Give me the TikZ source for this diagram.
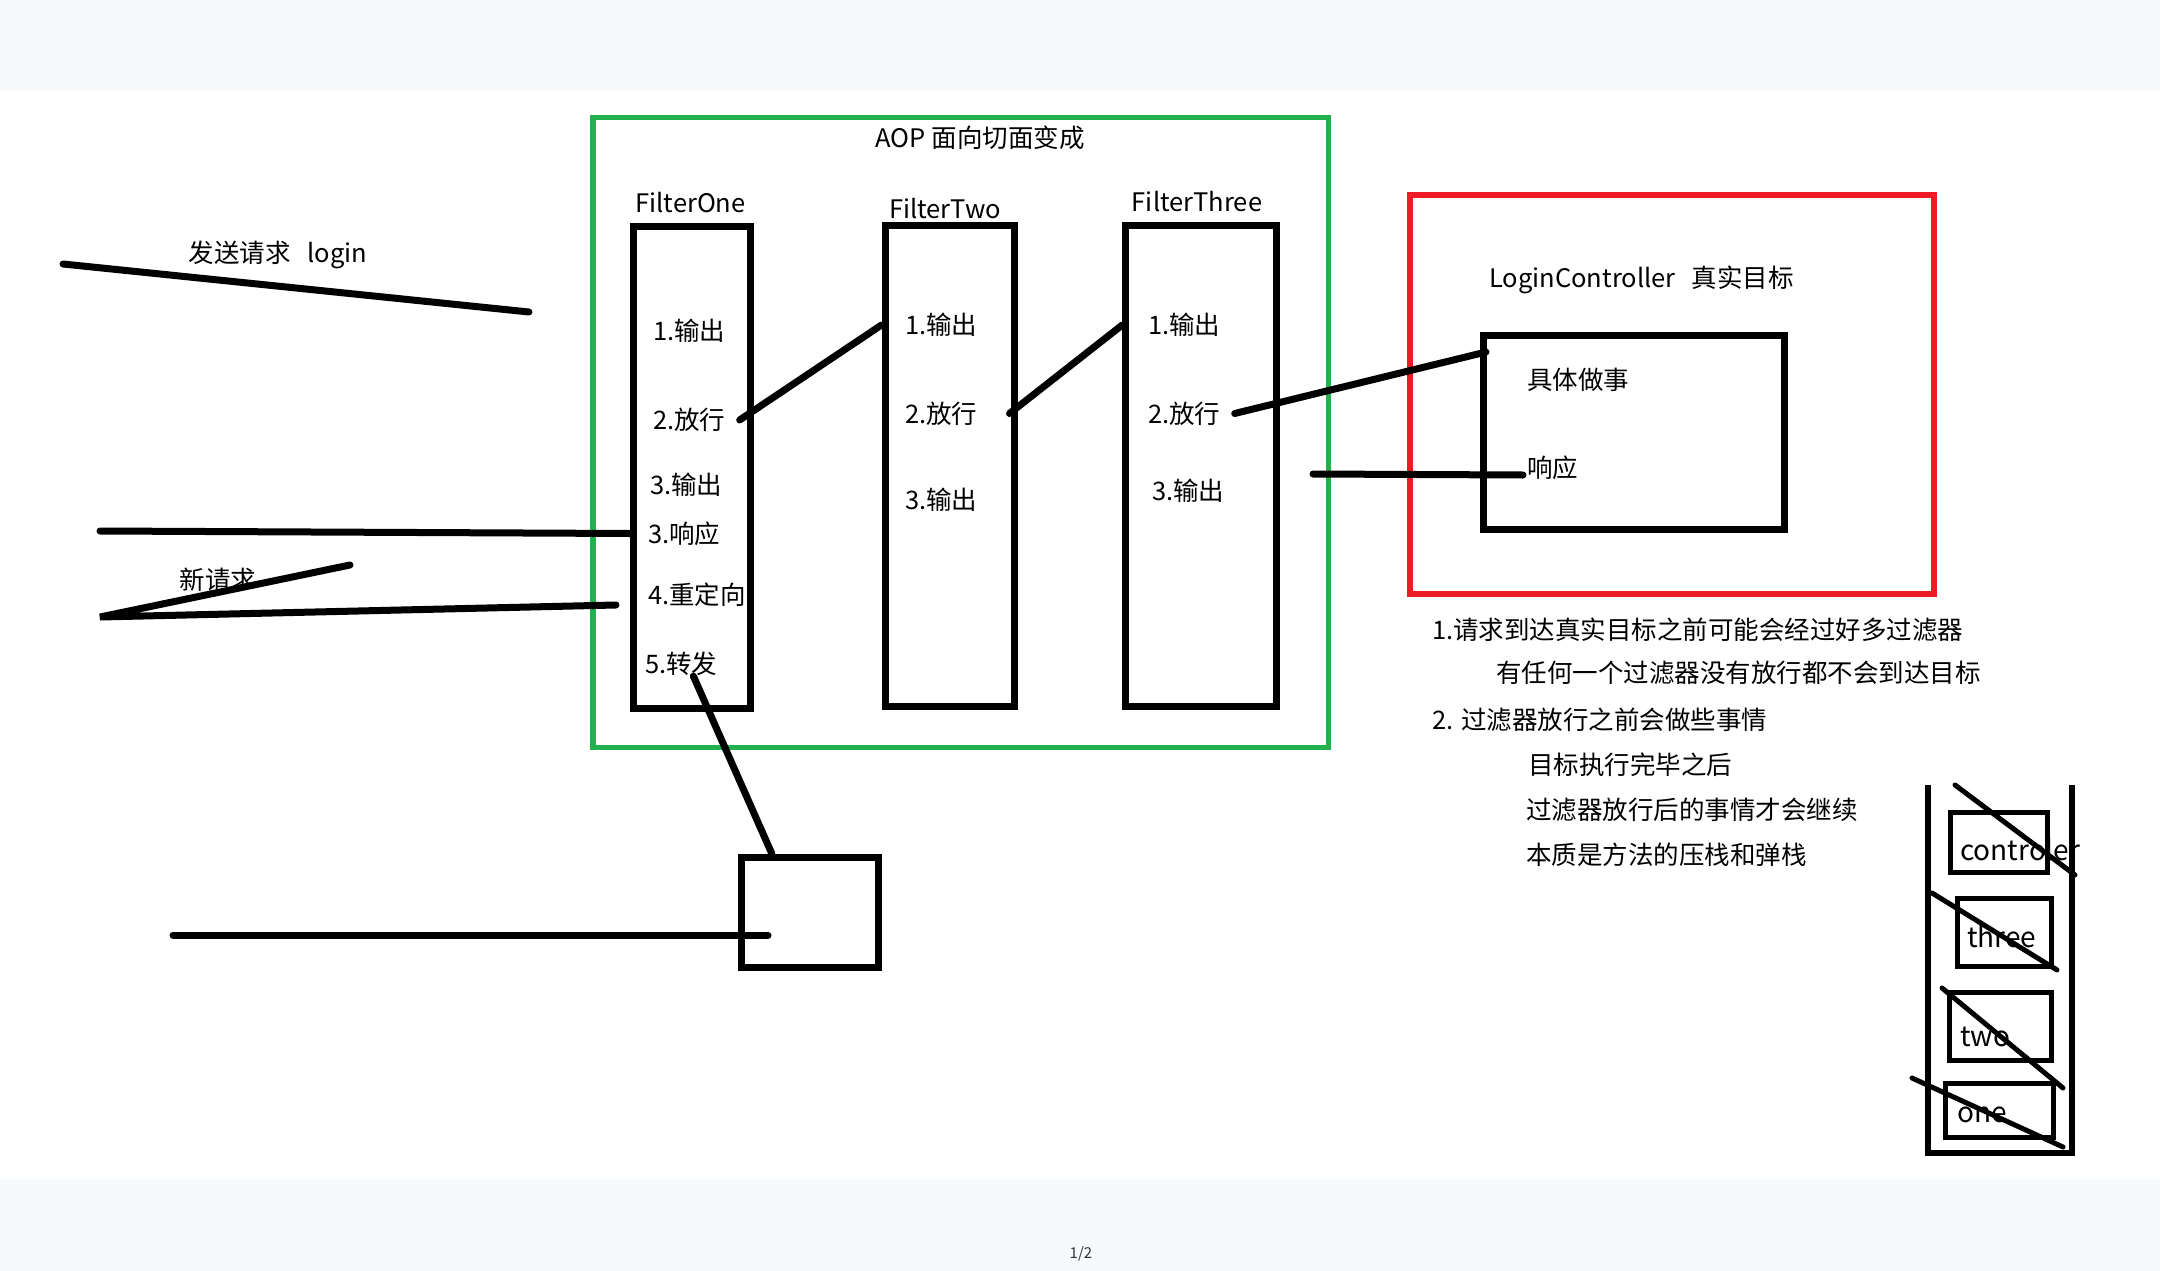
\documentclass[tikz,border=0pt]{standalone}
\usepackage{fontspec}
\setmainfont{Noto Sans CJK SC}
\usepackage{tikz}
\usetikzlibrary{calc}
\definecolor{aopgreen}{RGB}{34,177,76}
\definecolor{targetred}{RGB}{237,28,36}
\definecolor{pageband}{RGB}{247,250,253}

\begin{document}
\begin{tikzpicture}[
    x=1pt, y=-1pt,
    txt/.style={inner sep=0pt, font=\fontsize{25.5}{30}\selectfont},
    stacktxt/.style={inner sep=0pt, font=\fontsize{28}{32}\selectfont},
    filterbox/.style={rectangle, draw, line width=7pt, inner sep=0pt},
    stackbox/.style={rectangle, draw, line width=5pt, inner sep=0pt},
    wire/.style={line width=7pt, line cap=round},
    strike/.style={line width=5pt, line cap=round}
]
    % Page bands
    \fill[pageband] (0,0) rectangle (2160,90);
    \fill[pageband] (0,1179) rectangle (2160,1271);
    \useasboundingbox (0,0) rectangle (2160,1271);
    \node[inner sep=0pt, font=\fontsize{15}{17}\selectfont, text=black!80] (page) at (1081,1254) {1/2};

    % AOP frame
    \node[filterbox, draw=aopgreen, line width=5.5pt, minimum width=735.5pt, minimum height=629.5pt] (aop) at (960.5,432.5) {};
    \node[txt] (aoptitle) at (980,138) {AOP 面向切面变成};

    % FilterOne
    \node[filterbox, minimum width=117.5pt, minimum height=482pt] (fone) at (692,467.5) {};
    \node[txt] (fonelabel) at (690.5,203) {FilterOne};
    \node[txt, anchor=west] (fone1) at (653,331) {1.输出};
    \node[txt, anchor=west] (fone2) at (653,420) {2.放行};
    \node[txt, anchor=west] (fone3) at (650,485) {3.输出};
    \node[txt, anchor=west] (fone4) at (648,533.5) {3.响应};
    \node[txt, anchor=west] (fone5) at (648,594.5) {4.重定向};
    \node[txt, anchor=west] (fone6) at (645,664) {5.转发};

    % FilterTwo
    \node[filterbox, minimum width=129pt, minimum height=481pt] (ftwo) at (949.5,466) {};
    \node[txt] (ftwolabel) at (945,209) {FilterTwo};
    \node[txt, anchor=west] (ftwo1) at (905,325) {1.输出};
    \node[txt, anchor=west] (ftwo2) at (905,413.5) {2.放行};
    \node[txt, anchor=west] (ftwo3) at (905,500) {3.输出};

    % FilterThree
    \node[filterbox, minimum width=150.5pt, minimum height=481pt] (fthree) at (1201,466) {};
    \node[txt] (fthreelabel) at (1197,202) {FilterThree};
    \node[txt, anchor=west] (fthree1) at (1148,325) {1.输出};
    \node[txt, anchor=west] (fthree2) at (1148,413.5) {2.放行};
    \node[txt, anchor=west] (fthree3) at (1152,491) {3.输出};

    % Real target
    \node[filterbox, draw=targetred, line width=6pt, minimum width=524pt, minimum height=399pt] (target) at (1672,394.5) {};
    \node[txt, anchor=west] (targetlabel) at (1489,280) {LoginController\hspace{16pt}真实目标};
    \node[filterbox, minimum width=301pt, minimum height=194pt] (inner) at (1634,432.5) {};
    \node[txt, anchor=west] (work) at (1527,380) {具体做事};
    \node[txt, anchor=west] (resp) at (1527,468) {响应};

    % Notes
    \node[txt, anchor=west] (note1) at (1432,630) {1.请求到达真实目标之前可能会经过好多过滤器};
    \node[txt, anchor=west] (note2) at (1496,673) {有任何一个过滤器没有放行都不会到达目标};
    \node[txt, anchor=west] (note3) at (1432,720) {2. 过滤器放行之前会做些事情};
    \node[txt, anchor=west] (note4) at (1528,765) {目标执行完毕之后};
    \node[txt, anchor=west] (note5) at (1526,810) {过滤器放行后的事情才会继续};
    \node[txt, anchor=west] (note6) at (1526,855) {本质是方法的压栈和弹栈};

    % Client side
    \node[txt] (sendlabel) at (278,255) {发送请求\hspace{17pt}login};
    \node[txt] (newlabel) at (218,580) {新请求};
    \node[filterbox, minimum width=137pt, minimum height=110pt] (fwd) at (810,912.5) {};

    \coordinate (sendA) at (63,264);
    \coordinate (sendB) at (529,312);
    \coordinate (client) at (100,531);
    \coordinate (redir) at (616,605);
    \coordinate (newtip) at (100,617);
    \coordinate (newend) at (350,565);
    \coordinate (back) at (1313,474);
    \coordinate (fwdsrc) at (173,935);
    \coordinate (fwdin) at (768,935);

    \draw[wire] (sendA) -- (sendB);
    \draw[wire] (client) -- (fone.west |- fone4);
    \draw[wire] (redir) -- (newtip) -- (newend);
    \draw[wire] ([xshift=14pt]fone2.east) -- (ftwo.west |- ftwo1);
    \draw[wire] ($(ftwo.east |- ftwo2)+(-8,0)$) -- (fthree.west |- fthree1);
    \draw[wire] ([xshift=14pt]fthree2.east) -- ($(inner.north west)+(6,20)$);
    \draw[wire] (back) -- ($(resp.west)+(-4,7)$);
    \draw[wire] ([xshift=12pt]fone6.south) -- ([xshift=-38pt]fwd.north);
    \draw[wire] (fwdsrc) -- (fwdin);

    % Call stack
    \draw[line width=6pt] (1928,785) -- (1928,1153) -- (2072,1153) -- (2072,785);
    \node[stackbox, minimum width=97pt, minimum height=60pt] (sctrl) at (1998.5,842) {};
    \node[stackbox, minimum width=94pt, minimum height=68pt] (sthree) at (2004,932) {};
    \node[stackbox, minimum width=102pt, minimum height=68pt] (stwo) at (2000,1026) {};
    \node[stackbox, minimum width=108pt, minimum height=54pt] (sone) at (1999,1110) {};
    \node[stacktxt, anchor=west] (sctrltxt) at (1960,850) {controler};
    \node[stacktxt, anchor=west] (sthreetxt) at (1967,937) {three};
    \node[stacktxt, anchor=west] (stwotxt) at (1960,1037) {two};
    \node[stacktxt, anchor=west] (sonetxt) at (1957,1115) {one};
    \draw[strike] (1955,785) -- (2075,875);
    \draw[strike] (1932,893) -- (2057,970);
    \draw[strike] (1942,988) -- (2063,1088);
    \draw[strike] (1912,1078) -- (2063,1147);
\end{tikzpicture}
\end{document}
